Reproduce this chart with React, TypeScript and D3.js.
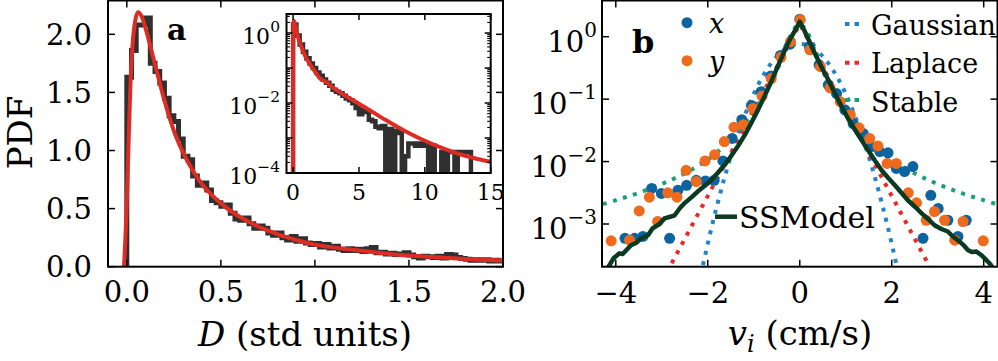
import React from "react";
import * as d3 from "d3";

const FONT = "'DejaVu Serif', serif";

// ---------------- Panel a data ----------------
const aXTicks = [0, 0.5, 1.0, 1.5, 2.0];
const aYTicks = [0, 0.5, 1.0, 1.5, 2.0];
const mainBinWidth = 0.025;
const mainHist = [
  1.63, 1.86, 2.08, 2.08, 2.14, 1.75, 1.68, 1.58, 1.45, 1.30,
  1.25, 1.10, 0.95, 0.92, 0.78, 0.70, 0.72, 0.66, 0.57, 0.55,
  0.52, 0.53, 0.46, 0.41, 0.40, 0.42, 0.37, 0.33, 0.35, 0.33,
  0.29, 0.27, 0.29, 0.25, 0.23, 0.26, 0.22, 0.24, 0.205, 0.19,
  0.20, 0.17, 0.19, 0.16, 0.175, 0.15, 0.14, 0.155, 0.14, 0.15,
  0.13, 0.155, 0.165, 0.12, 0.125, 0.11, 0.115, 0.105, 0.11, 0.12,
  0.10, 0.085, 0.075, 0.09, 0.085, 0.08, 0.09, 0.075, 0.105, 0.10,
  0.08, 0.07, 0.065, 0.055, 0.06, 0.055, 0.06, 0.05, 0.055, 0.05, 0.05,
];
const fitD = [
  -0.015, 0, 0.01, 0.02, 0.03, 0.045, 0.06, 0.08, 0.1, 0.12, 0.15, 0.2, 0.25, 0.3,
  0.35, 0.4, 0.45, 0.5, 0.6, 0.7, 0.8, 0.9, 1.0, 1.2, 1.4, 1.6, 1.8, 2.0, 2.5, 3,
  4, 5, 6, 7, 8, 9, 10, 11, 12, 13, 14, 15,
];
const fitPdf = [
  0, 0.55, 1.1, 1.6, 1.9, 2.12, 2.19, 2.15, 2.05, 1.93, 1.74, 1.43, 1.17, 0.98,
  0.83, 0.71, 0.62, 0.545, 0.43, 0.345, 0.28, 0.23, 0.19, 0.145, 0.11, 0.085, 0.066, 0.0525, 0.040, 0.0282,
  0.0158, 0.00955, 0.00562, 0.00331, 0.0020, 0.00126, 0.000832, 0.000575, 0.000417, 0.000316, 0.000251, 0.000209,
];
const insetBinWidth = 0.25;
const insetHist = [
  1.75, 0.85, 0.47, 0.29, 0.19, 0.135, 0.10, 0.075, 0.06, 0.047,
  0.038, 0.031, 0.024, 0.021, 0.019, 0.016, 0.0135, 0.012, 0.0098, 0.0072,
  0.0048, 0.0062, 0.0055, 0.0033, 0.0030, 0.0021, 0.0019, 0.0022, 0, 0.0018,
  0, 0.0016, 0.0014, 0, 0.0003, 0.0007, 0.0007, 0.0006, 0.0007, 0.0006,
  0.0007, 0, 0.0006, 0, 0, 0.0004, 0, 0.0004, 0.0004, 0,
  0.0004, 0.0004, 0.0004, 0.0004, 0, 0, 0, 0, 0, 0,
];
const insetXTicks = [0, 5, 10, 15];
const insetYTickExps = [0, -2, -4];

// ---------------- Panel b data ----------------
const bXTicks = [-4, -2, 0, 2, 4];
const bYTickExps = [0, -1, -2, -3];
const xV = [-3.80, -3.59, -3.41, -3.22, -3.01, -2.83, -2.65, -2.46, -2.25, -2.05, -1.86, -1.67, -1.47, -1.26, -1.05, -0.84, -0.63, -0.42, -0.21, 0.0, 0.21, 0.42, 0.62, 0.80, 0.98, 1.16, 1.38, 1.56, 1.74, 1.92, 2.10, 2.28, 2.46, 2.68, 2.85, 3.01, 3.22, 3.44, 3.62];
const xLogPdf = [-3.23, -3.23, -3.20, -2.43, -2.51, -3.23, -2.46, -2.38, -2.30, -2.31, -2.30, -1.99, -1.63, -1.33, -1.10, -0.88, -0.63, -0.30, -0.12, 0.28, -0.16, -0.45, -0.77, -0.91, -1.17, -1.39, -1.55, -1.76, -1.84, -1.86, -2.11, -2.16, -2.08, -3.23, -2.54, -2.75, -2.94, -3.20, -2.94];
const yV = [-4.10, -3.70, -3.49, -3.27, -3.09, -2.87, -2.67, -2.47, -2.25, -2.06, -1.85, -1.64, -1.43, -1.23, -1.02, -0.82, -0.62, -0.41, -0.20, 0.01, 0.22, 0.45, 0.66, 0.88, 1.10, 1.29, 1.52, 1.70, 1.90, 2.10, 2.36, 2.54, 2.75, 2.93, 3.15, 3.37, 3.55, 3.99];
const yLogPdf = [-3.27, -3.26, -2.79, -2.57, -2.96, -2.50, -2.57, -2.14, -2.32, -1.99, -1.89, -1.68, -1.45, -1.41, -1.15, -0.95, -0.67, -0.33, -0.08, 0.27, -0.21, -0.48, -0.82, -1.04, -1.25, -1.46, -1.63, -1.75, -2.03, -2.03, -2.50, -2.66, -2.94, -2.80, -2.94, -3.26, -2.96, -3.27];
const ssV = [-4.30, -4.17, -4.05, -3.92, -3.85, -3.67, -3.55, -3.45, -3.30, -3.20, -3.05, -2.94, -2.80, -2.72, -2.60, -2.51, -2.35, -2.22, -2.05, -1.93, -1.78, -1.64, -1.50, -1.35, -1.20, -1.06, -0.90, -0.77, -0.62, -0.48, -0.35, -0.22, -0.10, 0.0, 0.10, 0.20, 0.33, 0.47, 0.62, 0.76, 0.91, 1.05, 1.20, 1.34, 1.48, 1.63, 1.78, 1.92, 2.07, 2.21, 2.35, 2.50, 2.65, 2.79, 2.93, 3.08, 3.22, 3.33, 3.44, 3.55, 3.66, 3.75, 3.84, 3.95, 4.06, 4.15, 4.25];
const ssLogPdf = [-3.80, -3.70, -3.55, -3.47, -3.48, -3.34, -3.30, -3.23, -3.18, -3.07, -3.00, -2.91, -2.88, -2.86, -2.74, -2.67, -2.57, -2.48, -2.38, -2.30, -2.18, -2.06, -1.92, -1.76, -1.58, -1.39, -1.16, -0.96, -0.72, -0.48, -0.26, -0.05, 0.10, 0.24, 0.10, -0.06, -0.27, -0.48, -0.69, -0.90, -1.12, -1.31, -1.49, -1.65, -1.81, -1.98, -2.14, -2.26, -2.38, -2.50, -2.62, -2.72, -2.83, -2.92, -3.02, -3.08, -3.12, -3.20, -3.26, -3.33, -3.42, -3.45, -3.44, -3.50, -3.58, -3.65, -3.78];
const gaussV = [-2.2, -2.0, -1.8, -1.6, -1.4, -1.2, -1.0, -0.8, -0.6, -0.4, -0.2, 0, 0.2, 0.4, 0.6, 0.8, 1.0, 1.2, 1.4, 1.6, 1.8, 2.0, 2.2];
const gaussPdf = [1.03e-4, 4.84e-4, 1.96e-3, 6.87e-3, 2.07e-2, 5.41e-2, 0.1216, 0.236, 0.395, 0.571, 0.713, 0.767, 0.713, 0.571, 0.395, 0.236, 0.1216, 5.41e-2, 2.07e-2, 6.87e-3, 1.96e-3, 4.84e-4, 1.03e-4];
const laplaceV = [-3, -2.5, -2, -1.5, -1, -0.5, 0, 0.5, 1, 1.5, 2, 2.5, 3];
const laplacePdf = [1.19e-4, 5.79e-4, 2.82e-3, 1.372e-2, 6.68e-2, 0.3255, 1.585, 0.3255, 6.68e-2, 1.372e-2, 2.82e-3, 5.79e-4, 1.19e-4];
const stableV = [-4.5, -4, -3.5, -3, -2.5, -2, -1.75, -1.5, -1.25, -1, -0.75, -0.5, -0.25, 0, 0.25, 0.5, 0.75, 1, 1.25, 1.5, 1.75, 2, 2.5, 3, 3.5, 4, 4.5];
const stablePdf = [0.00186, 0.0024, 0.00316, 0.00437, 0.00646, 0.0107, 0.0151, 0.0224, 0.0355, 0.0631, 0.126, 0.282, 0.891, 1.585, 0.891, 0.282, 0.126, 0.0631, 0.0355, 0.0224, 0.0151, 0.0107, 0.00646, 0.00437, 0.00316, 0.0024, 0.00186];

const C = {
  hist: "#303030",
  red: "#dd2c24",
  blue: "#0b64a0",
  orange: "#ee6a1c",
  gauss: "#2284c8",
  laplace: "#ec2a25",
  stable: "#16a374",
  ss: "#0a3a22",
};

function stepPoints(vals: number[], bw: number): [number, number][] {
  const pts: [number, number][] = [[0, 0]];
  vals.forEach((v, k) => {
    pts.push([k * bw, v]);
    pts.push([(k + 1) * bw, v]);
  });
  pts.push([vals.length * bw, 0]);
  return pts;
}

function Pow({ x, y, exp, size, sup, raise }: { x: number; y: number; exp: number; size: number; sup: number; raise: number }) {
  const e = exp < 0 ? `\u2212${-exp}` : `${exp}`;
  return (
    <text x={x} y={y} fontSize={size} textAnchor="end" fontFamily={FONT}>
      10<tspan dy={-raise} fontSize={sup}>{e}</tspan>
    </text>
  );
}

export default function App() {
  const A = { l: 108, r: 503, t: 0.5, b: 266.7 };
  const xa = d3.scaleLinear().domain([-0.1, 2.0]).range([A.l, A.r]);
  const ya = d3.scaleLinear().domain([0, 2.291]).range([A.b, A.t]);
  const I = { l: 286.5, r: 490.7, t: 14, b: 173 };
  const xi = d3.scaleLinear().domain([-0.5, 15]).range([I.l, I.r]);
  const yi = d3.scaleLog().domain([1e-4, Math.pow(10, 0.543)]).range([I.b, I.t]);
  const B = { l: 602, r: 997.5, t: 0.5, b: 266.7 };
  const xb = d3.scaleLinear().domain([-4.3, 4.3]).range([B.l, B.r]);
  const yb = d3.scaleLog().domain([Math.pow(10, -3.684), Math.pow(10, 0.58)]).range([B.b, B.t]);

  const lineA = d3.line<[number, number]>().x((d) => xa(d[0])).y((d) => ya(d[1]));
  const mainHistPath = lineA(stepPoints(mainHist, mainBinWidth)) || "";
  const fitPts: [number, number][] = fitD.map((d, i) => [d, fitPdf[i]]);
  const mainFitPath = d3.line<[number, number]>().x((d) => xa(d[0])).y((d) => ya(d[1])).curve(d3.curveMonotoneX)(fitPts) || "";

  const safe = (v: number) => Math.max(v, 1e-7);
  const insetHistPath = d3.line<[number, number]>().x((d) => xi(d[0])).y((d) => yi(safe(d[1])))(stepPoints(insetHist, insetBinWidth)) || "";
  const insetFitPath = d3.line<[number, number]>().x((d) => xi(d[0])).y((d) => yi(safe(d[1]))).curve(d3.curveMonotoneX)(fitPts) || "";

  const lineB = (vs: number[], ps: number[], curve: any) =>
    d3.line<number>().x((_, i) => xb(vs[i])).y((p) => yb(p)).curve(curve)(ps) || "";
  const gaussPath = lineB(gaussV, gaussPdf, d3.curveCatmullRom);
  const laplacePath = lineB(laplaceV, laplacePdf, d3.curveLinear);
  const stablePath = lineB(stableV, stablePdf, d3.curveCatmullRom);
  const ssPath = lineB(ssV, ssLogPdf.map((l) => Math.pow(10, l)), d3.curveLinear);

  const TL = 7;
  const tk = { stroke: "#000", strokeWidth: 1.5 };
  const dotted = "4 6.5";

  const insetMinor: number[] = [];
  for (let e = -5; e <= 0; e++) for (let m = 2; m <= 9; m++) {
    const v = m * Math.pow(10, e);
    if (v > 1e-4 && v < Math.pow(10, 0.543)) insetMinor.push(v);
  }
  const insetMajor = [-4, -3, -2, -1, 0].map((e) => Math.pow(10, e));

  return (
    <svg width={998} height={361} style={{ position: "absolute", left: 0, top: 0, display: "block", background: "#fff" }} fontFamily={FONT}>
      <defs>
        <clipPath id="clipA"><rect x={A.l} y={A.t} width={A.r - A.l} height={A.b - A.t} /></clipPath>
        <clipPath id="clipI"><rect x={I.l} y={I.t} width={I.r - I.l} height={I.b - I.t} /></clipPath>
        <clipPath id="clipB"><rect x={B.l} y={B.t} width={B.r - B.l} height={B.b - B.t} /></clipPath>
      </defs>
      <rect x={0} y={0} width={998} height={361} fill="#fff" />

      {/* ---------------- Panel a ---------------- */}
      <g clipPath="url(#clipA)">
        <path d={mainHistPath} fill="none" stroke={C.hist} strokeWidth={5} strokeLinejoin="miter" />
        <path d={mainFitPath} fill="none" stroke={C.red} strokeWidth={4} />
      </g>
      {aXTicks.map((t) => (
        <g key={"ax" + t}>
          <line x1={xa(t)} x2={xa(t)} y1={A.b} y2={A.b - TL} {...tk} />
          <line x1={xa(t)} x2={xa(t)} y1={A.t} y2={A.t + TL} {...tk} />
          <text x={xa(t)} y={302} fontSize={29} textAnchor="middle">{d3.format(".1f")(t)}</text>
        </g>
      ))}
      {aYTicks.map((t) => (
        <g key={"ay" + t}>
          <line x1={A.l} x2={A.l + TL} y1={ya(t)} y2={ya(t)} {...tk} />
          <line x1={A.r} x2={A.r - TL} y1={ya(t)} y2={ya(t)} {...tk} />
          <text x={92} y={ya(t) + 10.5} fontSize={29} textAnchor="end">{d3.format(".1f")(t)}</text>
        </g>
      ))}
      <rect x={A.l} y={A.t} width={A.r - A.l} height={A.b - A.t} fill="none" stroke="#000" strokeWidth={2} />
      <text x={167} y={40} fontSize={30} fontWeight="bold">a</text>
      <text transform="translate(32,132.5) rotate(-90)" fontSize={34} textAnchor="middle">PDF</text>
      <text x={305} y={346} fontSize={34} textAnchor="middle">
        <tspan fontStyle="italic">D</tspan>{" (std units)"}
      </text>

      {/* inset */}
      <rect x={I.l} y={I.t} width={I.r - I.l} height={I.b - I.t} fill="#fff" />
      <g clipPath="url(#clipI)">
        <path d={insetHistPath} fill="none" stroke={C.hist} strokeWidth={4.5} />
        <path d={insetFitPath} fill="none" stroke={C.red} strokeWidth={4} />
      </g>
      {insetXTicks.map((t) => (
        <g key={"ix" + t}>
          <line x1={xi(t)} x2={xi(t)} y1={I.b} y2={I.b - 6} {...tk} />
          <line x1={xi(t)} x2={xi(t)} y1={I.t} y2={I.t + 6} {...tk} />
          <text x={xi(t)} y={200} fontSize={22} textAnchor="middle">{t}</text>
        </g>
      ))}
      {insetMajor.map((v, i) => (
        <g key={"iM" + i}>
          <line x1={I.l} x2={I.l + 6} y1={yi(v)} y2={yi(v)} {...tk} />
          <line x1={I.r} x2={I.r - 6} y1={yi(v)} y2={yi(v)} {...tk} />
        </g>
      ))}
      {insetMinor.map((v, i) => (
        <g key={"im" + i}>
          <line x1={I.l} x2={I.l + 3.5} y1={yi(v)} y2={yi(v)} stroke="#000" strokeWidth={1.1} />
          <line x1={I.r} x2={I.r - 3.5} y1={yi(v)} y2={yi(v)} stroke="#000" strokeWidth={1.1} />
        </g>
      ))}
      {insetYTickExps.map((e) => (
        <Pow key={"iy" + e} x={280} y={yi(Math.pow(10, e)) + 10.7} exp={e} size={22} sup={15.5} raise={11.7} />
      ))}
      <rect x={I.l} y={I.t} width={I.r - I.l} height={I.b - I.t} fill="none" stroke="#000" strokeWidth={2} />

      {/* ---------------- Panel b ---------------- */}
      <g clipPath="url(#clipB)">
        <path d={gaussPath} fill="none" stroke={C.gauss} strokeWidth={4} strokeDasharray={dotted} />
        <path d={laplacePath} fill="none" stroke={C.laplace} strokeWidth={4} strokeDasharray={dotted} />
        <path d={stablePath} fill="none" stroke={C.stable} strokeWidth={4} strokeDasharray={dotted} />
        {xV.map((v, i) => (
          <circle key={"px" + i} cx={xb(v)} cy={yb(Math.pow(10, xLogPdf[i]))} r={5.5} fill={C.blue} />
        ))}
        {yV.map((v, i) => (
          <circle key={"py" + i} cx={xb(v)} cy={yb(Math.pow(10, yLogPdf[i]))} r={5.5} fill={C.orange} />
        ))}
        <path d={ssPath} fill="none" stroke={C.ss} strokeWidth={4.5} strokeLinejoin="round" />
      </g>
      {bXTicks.map((t) => (
        <g key={"bx" + t}>
          <line x1={xb(t)} x2={xb(t)} y1={B.b} y2={B.b - TL} {...tk} />
          <line x1={xb(t)} x2={xb(t)} y1={B.t} y2={B.t + TL} {...tk} />
          <text x={xb(t)} y={303} fontSize={29} textAnchor="middle">{t < 0 ? `\u2212${-t}` : `${t}`}</text>
        </g>
      ))}
      {bYTickExps.map((e) => (
        <g key={"by" + e}>
          <line x1={B.l} x2={B.l + TL} y1={yb(Math.pow(10, e))} y2={yb(Math.pow(10, e))} {...tk} />
          <line x1={B.r} x2={B.r - TL} y1={yb(Math.pow(10, e))} y2={yb(Math.pow(10, e))} {...tk} />
          <Pow x={597} y={yb(Math.pow(10, e)) + 15.3} exp={e} size={29} sup={20} raise={15} />
        </g>
      ))}
      <rect x={B.l} y={B.t} width={B.r - B.l} height={B.b - B.t} fill="none" stroke="#000" strokeWidth={2} />
      <text x={632} y={53} fontSize={32} fontWeight="bold">b</text>
      <text x={800} y={345} fontSize={34} textAnchor="middle">
        <tspan fontStyle="italic">v</tspan>
        <tspan fontStyle="italic" fontSize={24} dy={7}>i</tspan>
        <tspan dy={-7}>{" (cm/s)"}</tspan>
      </text>

      {/* legend */}
      <circle cx={687} cy={22.7} r={5.5} fill={C.blue} />
      <text x={709} y={33} fontSize={27} fontStyle="italic">x</text>
      <circle cx={687} cy={60.7} r={5.5} fill={C.orange} />
      <text x={709} y={71} fontSize={27} fontStyle="italic">y</text>
      <line x1={845} x2={863} y1={24} y2={24} stroke={C.gauss} strokeWidth={4} strokeDasharray="4.5 5" />
      <text x={871} y={35} fontSize={27}>Gaussian</text>
      <line x1={845} x2={863} y1={62.7} y2={62.7} stroke={C.laplace} strokeWidth={4} strokeDasharray="4.5 5" />
      <text x={871} y={73.3} fontSize={27}>Laplace</text>
      <line x1={845} x2={863} y1={100} y2={100} stroke={C.stable} strokeWidth={4} strokeDasharray="4.5 5" />
      <text x={871} y={111.7} fontSize={27}>Stable</text>
      <line x1={715} x2={737} y1={216.7} y2={216.7} stroke={C.ss} strokeWidth={4.5} />
      <text x={739} y={228} fontSize={30}>SSModel</text>
    </svg>
  );
}
